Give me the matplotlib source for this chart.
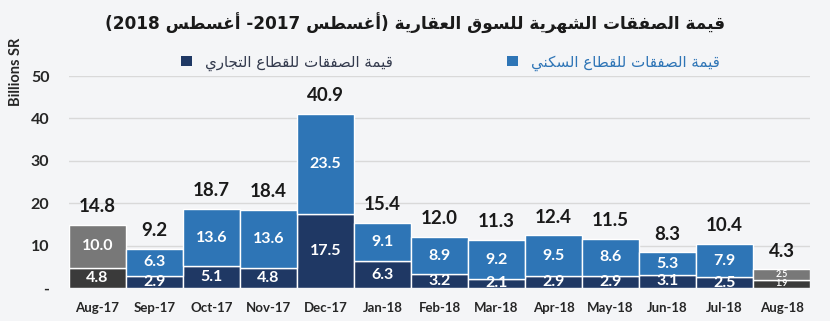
import matplotlib
matplotlib.use("Agg")
import matplotlib.pyplot as plt
from matplotlib.patches import Patch
import numpy as np

# ---------------- data ----------------
months = ["Aug-17", "Sep-17", "Oct-17", "Nov-17", "Dec-17", "Jan-18", "Feb-18",
          "Mar-18", "Apr-18", "May-18", "Jun-18", "Jul-18", "Aug-18"]
commercial = [4.8, 2.9, 5.1, 4.8, 17.5, 6.3, 3.2, 2.1, 2.9, 2.9, 3.1, 2.5, 1.9]
residential = [10.0, 6.3, 13.6, 13.6, 23.5, 9.1, 8.9, 9.2, 9.5, 8.6, 5.3, 7.9, 2.5]
totals = [14.8, 9.2, 18.7, 18.4, 40.9, 15.4, 12.0, 11.3, 12.4, 11.5, 8.3, 10.4, 4.3]
yticks = [0, 10, 20, 30, 40, 50]
ytick_labels = ["-", "10", "20", "30", "40", "50"]

title_ar = "قيمة الصفقات الشهرية للسوق العقارية (أغسطس 2017- أغسطس 2018)"
legend_res = "قيمة الصفقات للقطاع السكني"
legend_com = "قيمة الصفقات للقطاع التجاري"
ylabel = "Billions SR"

# ---------------- minimal Arabic shaping ----------------
FORMS = {
    'ا': (0xFE8D, 0xFE8E, None, None), 'أ': (0xFE83, 0xFE84, None, None),
    'إ': (0xFE87, 0xFE88, None, None), 'آ': (0xFE81, 0xFE82, None, None),
    'ب': (0xFE8F, 0xFE90, 0xFE91, 0xFE92), 'ة': (0xFE93, 0xFE94, None, None),
    'ت': (0xFE95, 0xFE96, 0xFE97, 0xFE98), 'ث': (0xFE99, 0xFE9A, 0xFE9B, 0xFE9C),
    'ج': (0xFE9D, 0xFE9E, 0xFE9F, 0xFEA0), 'ح': (0xFEA1, 0xFEA2, 0xFEA3, 0xFEA4),
    'خ': (0xFEA5, 0xFEA6, 0xFEA7, 0xFEA8), 'د': (0xFEA9, 0xFEAA, None, None),
    'ذ': (0xFEAB, 0xFEAC, None, None), 'ر': (0xFEAD, 0xFEAE, None, None),
    'ز': (0xFEAF, 0xFEB0, None, None), 'س': (0xFEB1, 0xFEB2, 0xFEB3, 0xFEB4),
    'ش': (0xFEB5, 0xFEB6, 0xFEB7, 0xFEB8), 'ص': (0xFEB9, 0xFEBA, 0xFEBB, 0xFEBC),
    'ض': (0xFEBD, 0xFEBE, 0xFEBF, 0xFEC0), 'ط': (0xFEC1, 0xFEC2, 0xFEC3, 0xFEC4),
    'ظ': (0xFEC5, 0xFEC6, 0xFEC7, 0xFEC8), 'ع': (0xFEC9, 0xFECA, 0xFECB, 0xFECC),
    'غ': (0xFECD, 0xFECE, 0xFECF, 0xFED0), 'ف': (0xFED1, 0xFED2, 0xFED3, 0xFED4),
    'ق': (0xFED5, 0xFED6, 0xFED7, 0xFED8), 'ك': (0xFED9, 0xFEDA, 0xFEDB, 0xFEDC),
    'ل': (0xFEDD, 0xFEDE, 0xFEDF, 0xFEE0), 'م': (0xFEE1, 0xFEE2, 0xFEE3, 0xFEE4),
    'ن': (0xFEE5, 0xFEE6, 0xFEE7, 0xFEE8), 'ه': (0xFEE9, 0xFEEA, 0xFEEB, 0xFEEC),
    'و': (0xFEED, 0xFEEE, None, None), 'ى': (0xFEEF, 0xFEF0, None, None),
    'ي': (0xFEF1, 0xFEF2, 0xFEF3, 0xFEF4),
}
LAMALEF = {'ا': (0xFEFB, 0xFEFC), 'أ': (0xFEF7, 0xFEF8),
           'إ': (0xFEF9, 0xFEFA), 'آ': (0xFEF5, 0xFEF6)}
MIRROR = {'(': ')', ')': '('}


def dual(c):
    return c in FORMS and FORMS[c][2] is not None


def shape(text):
    chars = list(text)
    out = []
    i = 0
    n = len(chars)
    while i < n:
        c = chars[i]
        if c not in FORMS:
            out.append(c)
            i += 1
            continue
        prev = chars[i - 1] if i > 0 else ''
        jp = dual(prev)
        if c == 'ل' and i + 1 < n and chars[i + 1] in LAMALEF:
            iso, fin = LAMALEF[chars[i + 1]]
            out.append(chr(fin if jp else iso))
            i += 2
            continue
        nxt = chars[i + 1] if i + 1 < n else ''
        jn = dual(c) and nxt in FORMS
        iso, fin, ini, med = FORMS[c]
        if jp and jn:
            out.append(chr(med))
        elif jp:
            out.append(chr(fin))
        elif jn:
            out.append(chr(ini))
        else:
            out.append(chr(iso))
        i += 1
    # visual reorder for an RTL paragraph: keep digit runs LTR
    tokens = []
    buf = ''
    for ch in out:
        if ch.isdigit() or (buf and ch == '.' and buf[-1].isdigit()):
            buf += ch
        else:
            if buf:
                tokens.append(buf)
                buf = ''
            tokens.append(MIRROR.get(ch, ch))
    if buf:
        tokens.append(buf)
    return ''.join(reversed(tokens))


# ---------------- styling ----------------
bg = "#f4f5f7"
navy = "#1f3864"
blue = "#2e75b6"
gray_dark = "#3a3a3a"
gray_mid = "#787878"

last = len(months) - 1
bottom_colors = [gray_dark if i in (0, last) else navy for i in range(len(months))]
top_colors = [gray_mid if i in (0, last) else blue for i in range(len(months))]

num_font = "Lato"
fig = plt.figure(figsize=(8.3, 3.21), dpi=100, facecolor=bg)
ax = fig.add_axes([0.083, 0.103, 0.893, 0.66], facecolor=bg)

x = np.arange(len(months))
ax.bar(x, commercial, width=1.0, color=bottom_colors, edgecolor="white", linewidth=1.0, zorder=3)
ax.bar(x, residential, width=1.0, bottom=commercial, color=top_colors,
       edgecolor="white", linewidth=1.0, zorder=3)

for xi, c, r, t in zip(x, commercial, residential, totals):
    small = (c + r) < 5
    fs_in = 6.3 if small else 11.5
    ax.text(xi, c / 2, f"{c:.1f}", ha="center", va="center", color="white",
            fontsize=fs_in, fontweight="bold", family=num_font, zorder=4)
    ax.text(xi, c + r / 2, f"{r:.1f}", ha="center", va="center", color="white",
            fontsize=fs_in, fontweight="bold", family=num_font, zorder=4)
    ax.text(xi, c + r + 2.3, f"{t:.1f}", ha="center", va="bottom", color="#1a1a1a",
            fontsize=13.5, fontweight="bold", family=num_font, zorder=4)

ax.set_xlim(-0.5, len(months) - 0.5)
ax.set_ylim(0, 50)
ax.set_yticks(yticks)
ax.set_yticklabels(ytick_labels, fontsize=11.5, fontweight="bold", family=num_font, color="#262626")
ax.set_xticks(x)
ax.set_xticklabels(months, fontsize=9.5, fontweight="bold", family=num_font, color="#262626")
ax.tick_params(axis="both", length=0)
ax.tick_params(axis="y", pad=14)
ax.tick_params(axis="x", pad=10)
ax.grid(axis="y", color="#d9d9d9", linewidth=1.0, zorder=0)
for s in ax.spines.values():
    s.set_visible(False)

ax.set_ylabel(ylabel, fontsize=10.5, fontweight="bold", family=num_font, color="#262626")
ax.yaxis.set_label_coords(-0.062, 1.02)

fig.text(0.5, 0.928, shape(title_ar), ha="center", va="center", fontsize=12.2,
         fontweight="bold", family="DejaVu Sans", color="#1a1a1a")

handles = [Patch(facecolor=navy, edgecolor="none"), Patch(facecolor=blue, edgecolor="none")]
leg = fig.legend(handles, [shape(legend_com), shape(legend_res)], ncol=2,
                 loc="center", bbox_to_anchor=(0.543, 0.805), frameon=False,
                 prop={"family": "DejaVu Sans", "size": 10.8}, handlelength=0.7,
                 handleheight=0.7, handletextpad=0.9, columnspacing=7.6)
leg.get_texts()[0].set_color("#333a4d")
leg.get_texts()[1].set_color(blue)

fig.savefig("out.png", dpi=100, facecolor=bg)
